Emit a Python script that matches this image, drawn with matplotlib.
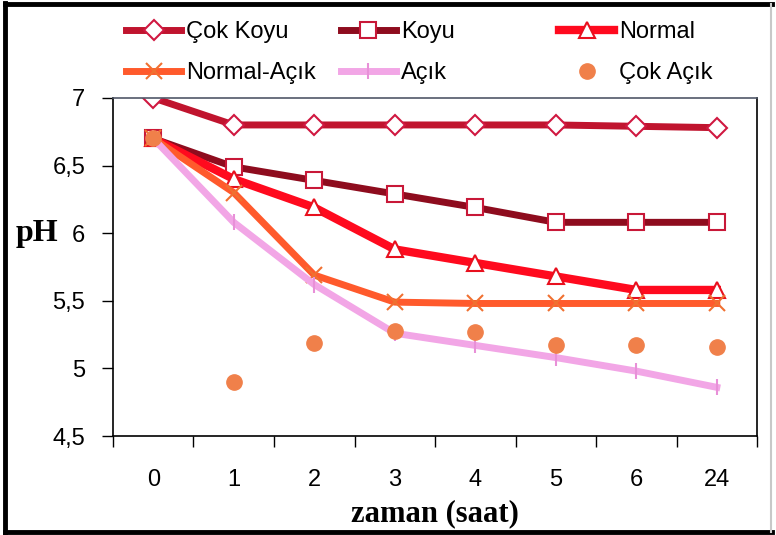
import numpy as np
import matplotlib.pyplot as plt
from matplotlib.lines import Line2D

plt.rcParams['font.family'] = ['Liberation Sans', 'DejaVu Sans']

zaman = ['0', '1', '2', '3', '4', '5', '6', '24']
cok_koyu = [7.0, 6.8, 6.8, 6.8, 6.8, 6.8, 6.79, 6.78]
koyu = [6.7, 6.49, 6.39, 6.29, 6.19, 6.08, 6.08, 6.08]
normal = [6.7, 6.4, 6.19, 5.88, 5.78, 5.68, 5.58, 5.58]
normal_acik = [6.7, 6.3, 5.69, 5.49, 5.48, 5.48, 5.48, 5.48]
acik = [6.7, 6.08, 5.62, 5.26, 5.17, 5.08, 4.98, 4.86]
cok_acik = [6.7, 4.9, 5.19, 5.28, 5.27, 5.17, 5.17, 5.16]

y_ticks = [4.5, 5, 5.5, 6, 6.5, 7]
y_labels = ['4,5', '5', '5,5', '6', '6,5', '7']

fig = plt.figure(figsize=(7.76, 5.35), dpi=100)
ax = fig.add_axes([0.1456, 0.185, 0.83, 0.632])
x = np.arange(len(zaman))

lw = 5
h1, = ax.plot(x, cok_koyu, color='#c0142e', lw=lw, marker='D', ms=10,
              mfc='white', mec='#d01840', mew=1.5, label='Çok Koyu')
h2, = ax.plot(x, koyu, color='#8e0c1e', lw=lw, marker='s', ms=12,
              mfc='white', mec='#c81838', mew=1.5, label='Koyu')
h3, = ax.plot(x, normal, color='#ff0a1e', lw=lw + 1, marker='^', ms=12,
              mfc='white', mec='#e8101e', mew=1.5, label='Normal')
h4, = ax.plot(x, normal_acik, color='#ff5a2c', lw=lw, marker='x', ms=11,
              mec='#f07030', mew=1.5, label='Normal-Açık')
h5, = ax.plot(x, acik, color='#f2a6e6', lw=lw, marker='|', ms=12,
              mec='#e890d8', mew=1.5, label='Açık')
h6, = ax.plot(x, cok_acik, ls='none', marker='o', ms=11,
              mfc='#f0804a', mec='#f0804a', label='Çok Açık')

ax.set_xlim(-0.5, len(zaman) - 0.5)
ax.set_ylim(4.5, 7)
ax.set_yticks(y_ticks)
ax.set_yticklabels(y_labels, fontsize=17)
ax.tick_params(axis='y', direction='out', length=8, pad=12, width=1)
ax.set_xticks(x)
ax.set_xticklabels(zaman, fontsize=17)
ax.set_xticks(np.arange(len(zaman) + 1) - 0.5, minor=True)
ax.tick_params(axis='x', which='major', length=0, pad=24)
ax.tick_params(axis='x', which='minor', direction='out', length=8, width=1)
for s in ax.spines.values():
    s.set_linewidth(1.2)
ax.spines['top'].set_color('#505868')

ax.set_xlabel('zaman (saat)', family='Liberation Serif', fontweight='bold',
              fontsize=22, labelpad=6)
fig.text(0.047, 0.563, 'pH', family='Liberation Serif', fontweight='bold',
         fontsize=23, ha='center', va='center')

# legend in three separate columns
cols = [((h1, h4), 0.135), ((h2, h5), 0.412), ((h3, h6), 0.693)]
for hs, xpos in cols:
    fig.legend(handles=list(hs), loc='upper left',
               bbox_to_anchor=(xpos, 1.0), frameon=False, fontsize=17,
               handlelength=2.33, handletextpad=0.2, labelspacing=0.8,
               borderaxespad=0.5)

# frame around the figure
for xs, ys in [([0.006, 0.006], [0.004, 0.995]), ([0.006, 0.995], [0.993, 0.993]),
               ([0.006, 0.995], [0.006, 0.006])]:
    fig.add_artist(Line2D(xs, ys, color='black', lw=3.5))
fig.add_artist(Line2D([0.993, 0.993], [0.006, 0.993], color='#c8c8c8', lw=1.5))

fig.savefig('out.png', dpi=100)
